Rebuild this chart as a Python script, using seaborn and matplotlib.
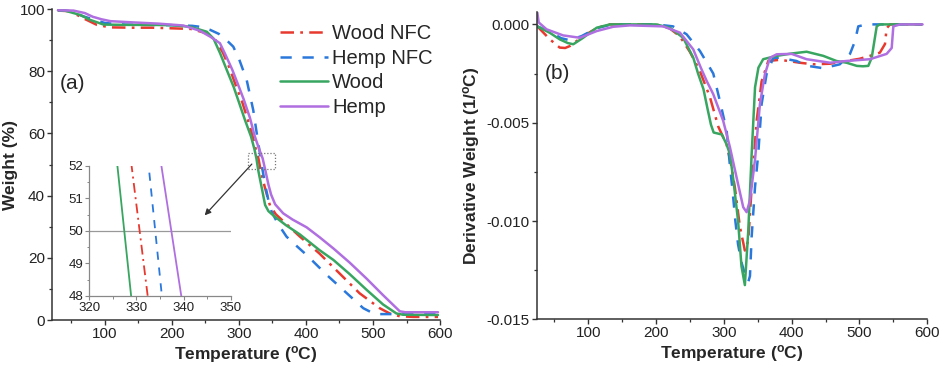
import numpy as np
import pandas as pd
import matplotlib
matplotlib.use("Agg")
import matplotlib.pyplot as plt
import seaborn as sns
from matplotlib.patches import Rectangle
from matplotlib.ticker import MultipleLocator, FixedLocator, FuncFormatter

# ---------------- data: TGA weight (%) ----------------
wood_nfc_T = [30, 48, 68, 88, 108, 140, 170, 200, 228, 252, 265, 276, 286, 296, 305, 313, 320, 325,
              329.0, 332.4, 338.8, 346.3, 355, 370, 390, 420, 450, 480, 510, 525, 540, 560, 597]
wood_nfc_W = [99.5, 99.3, 97.0, 94.9, 94.1, 94.0, 94.0, 93.8, 93.6, 92.2, 90.0, 86.0, 81.0, 75.0, 70.0,
              64.5, 59.5, 55.0, 52.0, 48.0, 42.5, 36.8, 34.0, 31.0, 27.0, 21.4, 15.0, 8.6, 3.8, 2.1,
              1.2, 1.0, 1.0]

hemp_nfc_T = [30, 45, 70, 100, 130, 170, 200, 230, 245, 257, 270, 280, 291.5, 300, 311.5, 321.3, 328.8,
              332.6, 335.4, 340, 343.8, 348.8, 358, 371, 385, 401, 431, 461, 485.5, 500, 505.5, 597]
hemp_nfc_W = [99.6, 99.4, 97.5, 95.5, 95.0, 94.9, 94.8, 94.6, 94.2, 93.3, 92.0, 90.3, 87.9, 84.0, 77.2,
              67.5, 56.8, 52.0, 48.0, 42.5, 38.6, 34.8, 31.0, 26.8, 24.0, 20.9, 14.5, 8.6, 3.8, 2.2,
              1.9, 1.9]

wood_T = [30, 40, 63, 78, 98, 130, 170, 200, 227, 252, 262, 272, 282, 292, 300, 309, 318, 323,
          326.0, 328.9, 334, 339, 344, 352, 370, 391, 420, 441, 465, 491, 515, 535, 545, 597]
wood_W = [99.6, 99.5, 98.1, 96.5, 95.0, 94.9, 94.9, 94.8, 94.3, 92.7, 90.5, 85.7, 80.3, 75.0, 70.0,
          64.3, 59.0, 55.0, 52.0, 48.0, 42.5, 37.0, 35.0, 33.5, 30.5, 27.5, 22.5, 19.3, 14.8, 9.6,
          5.0, 2.1, 1.7, 1.6]

hemp_T = [30, 53, 70, 82, 95, 108, 142, 180, 217, 241.8, 258, 271.6, 279, 290, 299, 307, 316.4, 323,
          330, 335.3, 339.5, 344, 348, 354, 366, 380, 401, 421, 441, 465, 490.5, 515, 540, 548, 597]
hemp_W = [99.6, 99.5, 98.7, 97.5, 96.7, 96.1, 95.7, 95.3, 94.7, 93.0, 91.0, 89.0, 85.7, 80.5, 75.5,
          71.0, 65.0, 59.5, 55.0, 52.0, 48.0, 43.5, 40.3, 37.2, 34.3, 32.3, 29.8, 26.5, 23.0, 18.5,
          13.3, 8.0, 2.8, 2.5, 2.5]

# ---------------- data: derivative weight (1/°C) ----------------
d_wood_nfc_T = [25, 43.5, 58, 66, 73, 92.6, 112, 130, 200, 220, 235, 250, 264.7, 279.5, 291.8, 304, 310,
                316.3, 323.7, 331, 336, 341, 348.4, 355.7, 365.5, 382.7, 412, 432, 456.5, 481, 500,
                515.5, 530, 537.6, 540, 545, 592]
d_wood_nfc_D = [-0.0001, -0.00076, -0.00118, -0.0012, -0.0011, -0.0006, -0.0002, 0, 0, -0.0002, -0.0006,
                -0.0014, -0.00237, -0.0037, -0.0052, -0.0061, -0.0070, -0.0083, -0.0103, -0.0115,
                -0.0110, -0.0083, -0.0049, -0.0029, -0.00186, -0.0018, -0.00195, -0.00203, -0.0020,
                -0.00186, -0.00175, -0.0016, -0.00144, -0.0010, -0.0002, 0, 0]

d_hemp_nfc_T = [25, 45, 60, 72, 90, 112, 135, 200, 225, 245, 264.7, 284.4, 294.2, 304.1, 309, 313, 317,
                321, 326, 331, 336, 338.5, 341, 345.9, 350.7, 355.7, 363, 372.9, 382.7, 407, 422,
                446.6, 471, 486, 493.4, 498.2, 510, 592]
d_hemp_nfc_D = [-0.0001, -0.0004, -0.0007, -0.0008, -0.0006, -0.0002, 0, 0, -0.0001, -0.0005, -0.00135,
                -0.0025, -0.0039, -0.0054, -0.0072, -0.0085, -0.0100, -0.0112, -0.0121, -0.0127,
                -0.0131, -0.0128, -0.0108, -0.0083, -0.0066, -0.00405, -0.00253, -0.0017, -0.0017,
                -0.00186, -0.0021, -0.00223, -0.00203, -0.0015, -0.00085, -0.0001, 0, 0]

d_wood_T = [25, 43.5, 58, 70, 78, 92.6, 112.4, 132, 200, 220.5, 240, 255, 262, 270, 276, 281, 285, 297,
            304, 309, 314, 321, 326, 331, 336, 341, 346, 351, 358, 378, 400, 422, 446.6, 466, 481,
            496, 505, 513, 518, 525.4, 530, 592]
d_wood_D = [-0.0001, -0.00043, -0.00076, -0.00095, -0.00101, -0.00068, -0.00017, 0, 0, -0.00017,
            -0.00068, -0.0017, -0.0025, -0.0033, -0.0043, -0.0051, -0.0055, -0.0056, -0.0061, -0.0066,
            -0.0079, -0.0100, -0.0123, -0.01326, -0.0105, -0.0066, -0.0032, -0.0022, -0.00177,
            -0.0016, -0.00148, -0.00139, -0.0016, -0.00186, -0.00195, -0.00211, -0.00213, -0.00211,
            -0.0017, -0.0001, 0, 0]

d_hemp_T = [25, 27, 38.6, 63, 87.8, 112.4, 136.9, 161.5, 210.6, 235.3, 254.9, 266, 275, 284.4, 299, 309,
            318.9, 328.6, 333.6, 338.5, 345.9, 353.2, 360.6, 368, 378, 400, 422, 456.5, 481, 515.5,
            540, 547.5, 549.9, 560, 593]
d_hemp_D = [0.0006, 0.0001, -0.00025, -0.00056, -0.00068, -0.00034, -0.00012, -0.00005, -0.0001,
            -0.00042, -0.00127, -0.0022, -0.0029, -0.00355, -0.0049, -0.00625, -0.0078, -0.0093,
            -0.00955, -0.00895, -0.0069, -0.00405, -0.00253, -0.0017, -0.00152, -0.0015, -0.00177,
            -0.00195, -0.00186, -0.00177, -0.0015, -0.0012, -0.0001, 0, 0]

labels = ["Wood NFC", "Hemp NFC", "Wood", "Hemp"]
colors = ["#e8392f", "#2a78dc", "#38a660", "#b06fe0"]
styles = [(0, (5.4, 2.5, 1.1, 2.5)), (0, (4.5, 4.3)), "-", "-"]

# ---------------- style ----------------
sns.set_style("ticks")
plt.rcParams["font.family"] = ["Liberation Sans", "DejaVu Sans"]
plt.rcParams["mathtext.fontset"] = "custom"
plt.rcParams["mathtext.rm"] = "Liberation Sans"
plt.rcParams["mathtext.bf"] = "Liberation Sans:bold"
plt.rcParams["axes.unicode_minus"] = False

fig = plt.figure(figsize=(9.42, 3.70), dpi=100)
axL = fig.add_axes([0.0552, 0.1351, 0.4119, 0.8405])
axR = fig.add_axes([0.5697, 0.1370, 0.4147, 0.8316])
axI = fig.add_axes([0.0945, 0.2000, 0.1507, 0.3514])

tga = [(wood_nfc_T, wood_nfc_W), (hemp_nfc_T, hemp_nfc_W), (wood_T, wood_W), (hemp_T, hemp_W)]
dtg = [(d_wood_nfc_T, d_wood_nfc_D), (d_hemp_nfc_T, d_hemp_nfc_D), (d_wood_T, d_wood_D), (d_hemp_T, d_hemp_D)]

LW = 1.8
for (T, W), lab, c, ls in zip(tga, labels, colors, styles):
    df = pd.DataFrame({"T": T, "W": W})
    sns.lineplot(data=df, x="T", y="W", ax=axL, color=c, linestyle=ls, linewidth=LW, label=lab)
    sns.lineplot(data=df, x="T", y="W", ax=axI, color=c, linestyle=ls, linewidth=1.3)
for (T, D), lab, c, ls in zip(dtg, labels, colors, styles):
    df = pd.DataFrame({"T": T, "D": D})
    sns.lineplot(data=df, x="T", y="D", ax=axR, color=c, linestyle=ls, linewidth=LW)

label_font = dict(fontsize=12.5, fontweight="bold")
tlabel = r"Temperature ($\mathbf{^{o}}$C)"

# left axes
axL.set_xlim(21, 600)
axL.set_ylim(0, 100)
axL.xaxis.set_major_locator(FixedLocator([100, 200, 300, 400, 500, 600]))
axL.xaxis.set_minor_locator(FixedLocator([50, 150, 250, 350, 450, 550]))
axL.yaxis.set_major_locator(MultipleLocator(20))
axL.yaxis.set_minor_locator(MultipleLocator(10))
axL.set_xlabel(tlabel, **label_font, labelpad=2)
axL.set_ylabel("Weight (%)", **label_font, labelpad=1)
axL.text(0.019, 0.76, "(a)", transform=axL.transAxes, fontsize=15, va="center", ha="left")
leg = axL.legend(loc="upper left", bbox_to_anchor=(0.5876, 0.952), frameon=False, fontsize=14.5,
                 handlelength=2.4, handletextpad=0.2, labelspacing=0.28, borderpad=0, borderaxespad=0)

# zoom box and arrow
axL.add_patch(Rectangle((314, 48.5), 40, 5.2, fill=False, edgecolor="#777777", linestyle=(0, (1, 1.5)),
                        linewidth=0.9, zorder=5))
axL.annotate("", xy=(246, 33.0), xytext=(322, 50.8),
             arrowprops=dict(arrowstyle="-|>", color="#333333", lw=0.9, mutation_scale=9))

# right axes
axR.set_xlim(24, 600)
axR.set_ylim(-0.015, 0.00065)
axR.xaxis.set_major_locator(FixedLocator([100, 200, 300, 400, 500, 600]))
axR.xaxis.set_minor_locator(FixedLocator([50, 150, 250, 350, 450, 550]))
axR.yaxis.set_major_locator(FixedLocator([0.0, -0.005, -0.010, -0.015]))
axR.yaxis.set_minor_locator(FixedLocator([-0.0025, -0.0075, -0.0125]))
axR.yaxis.set_major_formatter(FuncFormatter(lambda v, p: f"{v:.3f}" if abs(v) > 1e-9 else "0.000"))
axR.set_xlabel(tlabel, **label_font, labelpad=2)
axR.set_ylabel("Derivative Weight (1/$\\mathbf{^{o}}$C)", **label_font, labelpad=3)
axR.text(0.021, 0.80, "(b)", transform=axR.transAxes, fontsize=15, va="center", ha="left")

for ax in (axL, axR):
    for s in ("top", "right"):
        ax.spines[s].set_visible(False)
    for s in ("left", "bottom"):
        ax.spines[s].set_color("#333333")
        ax.spines[s].set_linewidth(1.1)
    ax.tick_params(which="major", direction="out", length=3.5, width=1, color="#333333",
                   labelsize=11, pad=1.5, labelcolor="#222222")
    ax.tick_params(which="minor", direction="out", length=2.2, width=0.9, color="#333333")

# inset
axI.set_xlim(320, 350)
axI.set_ylim(48, 52)
axI.axhline(50, color="#999999", linewidth=0.9, zorder=0)
axI.xaxis.set_major_locator(MultipleLocator(10))
axI.xaxis.set_minor_locator(MultipleLocator(5))
axI.yaxis.set_major_locator(MultipleLocator(1))
axI.yaxis.set_minor_locator(MultipleLocator(0.5))
axI.set_xlabel("")
axI.set_ylabel("")
axI.patch.set_alpha(0)
for s in ("top", "right"):
    axI.spines[s].set_visible(False)
for s in ("left", "bottom"):
    axI.spines[s].set_color("#888888")
    axI.spines[s].set_linewidth(0.9)
axI.tick_params(which="major", direction="out", length=3, width=0.8, color="#888888",
                labelsize=9.5, pad=1, labelcolor="#222222")
axI.tick_params(which="minor", direction="out", length=1.8, width=0.7, color="#888888")
if axI.get_legend() is not None:
    axI.get_legend().remove()

fig.savefig("out.png", dpi=100)
